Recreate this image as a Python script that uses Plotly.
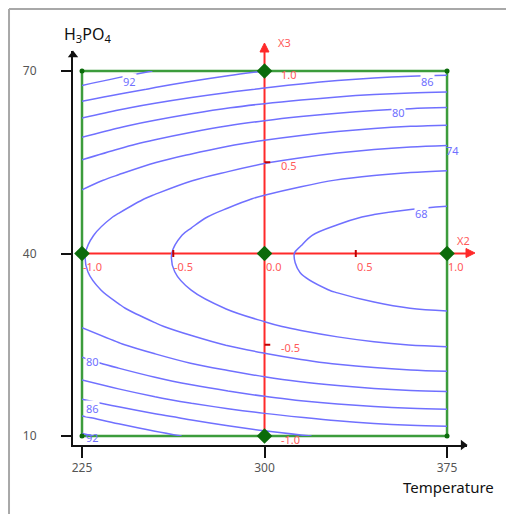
import plotly.graph_objects as go

# ---------------- data ----------------
temperature = [225, 240, 255, 270, 285, 300, 315, 330, 345, 360, 375]
h3po4 = [10, 13, 16, 19, 22, 25, 28, 31, 34, 37, 40, 43, 46, 49, 52, 55, 58, 61, 64, 67, 70]
# estimated response values, rows = H3PO4 levels (10 -> 70), cols = temperature levels
response = [
    [92.43, 91.06, 89.81, 88.70, 87.73, 86.88, 86.17, 85.58, 85.13, 84.82, 84.63],
    [89.34, 87.97, 86.72, 85.61, 84.64, 83.79, 83.08, 82.49, 82.04, 81.73, 81.54],
    [86.05, 84.68, 83.43, 82.32, 81.35, 80.50, 79.79, 79.20, 78.75, 78.44, 78.25],
    [83.16, 81.79, 80.54, 79.43, 78.46, 77.61, 76.90, 76.31, 75.86, 75.55, 75.36],
    [80.67, 79.30, 78.05, 76.94, 75.97, 75.12, 74.41, 73.82, 73.37, 73.06, 72.87],
    [78.58, 77.21, 75.96, 74.85, 73.88, 73.03, 72.32, 71.73, 71.28, 70.97, 70.78],
    [76.89, 75.52, 74.27, 73.16, 72.19, 71.34, 70.63, 70.04, 69.59, 69.28, 69.09],
    [75.60, 74.23, 72.98, 71.87, 70.90, 70.05, 69.34, 68.75, 68.30, 67.99, 67.80],
    [74.71, 73.34, 72.09, 70.98, 70.01, 69.16, 68.45, 67.86, 67.41, 67.10, 66.91],
    [74.22, 72.85, 71.60, 70.49, 69.52, 68.67, 67.96, 67.37, 66.92, 66.61, 66.42],
    [74.13, 72.76, 71.51, 70.40, 69.43, 68.58, 67.87, 67.28, 66.83, 66.52, 66.33],
    [74.44, 73.07, 71.82, 70.71, 69.74, 68.89, 68.18, 67.59, 67.14, 66.83, 66.64],
    [75.15, 73.78, 72.53, 71.42, 70.45, 69.60, 68.89, 68.30, 67.85, 67.54, 67.35],
    [76.26, 74.89, 73.64, 72.53, 71.56, 70.71, 70.01, 69.41, 68.96, 68.65, 68.46],
    [77.77, 76.40, 75.15, 74.04, 73.07, 72.22, 71.51, 70.92, 70.47, 70.16, 69.97],
    [79.68, 78.31, 77.06, 75.95, 74.98, 74.13, 73.42, 72.83, 72.38, 72.07, 71.88],
    [81.99, 80.62, 79.37, 78.26, 77.29, 76.44, 75.73, 75.14, 74.69, 74.38, 74.19],
    [84.70, 83.33, 82.08, 80.97, 80.01, 79.15, 78.44, 77.85, 77.40, 77.09, 76.90],
    [87.81, 86.44, 85.19, 84.08, 83.11, 82.26, 81.55, 80.96, 80.51, 80.20, 80.01],
    [91.32, 89.95, 88.70, 87.59, 86.62, 85.77, 85.06, 84.47, 84.02, 83.71, 83.52],
    [94.53, 93.16, 91.91, 90.80, 89.83, 88.98, 88.27, 87.68, 87.23, 86.92, 86.73],
]
contour_start, contour_end, contour_step = 68, 92, 3

# contour labels shown in the chart
contour_label_text = ["92", "86", "80", "74", "68", "80", "86", "92"]
contour_label_x = [244.7, 367.0, 354.9, 377.3, 364.3, 229.5, 229.5, 229.5]
contour_label_y = [68.3, 68.2, 63.1, 57.0, 46.5, 22.3, 14.6, 9.7]

# experimental design points (star + centre) and cube corners
design_T = [225, 375, 300, 300, 300]
design_H = [40, 40, 10, 70, 40]
corner_T = [225, 375, 375, 225]
corner_H = [70, 70, 10, 10]

# axis ticks
x_ticks = [225, 300, 375]
y_ticks = [10, 40, 70]
x_title = "Temperature"
y_title = "H<sub>3</sub>PO<sub>4</sub>"

# coded axes (X2 along temperature, X3 along H3PO4)
coded_labels = ["-1.0", "-0.5", "0.0", "0.5", "1.0"]
coded_T = [225, 262.5, 300, 337.5, 375]
coded_H = [10, 25, 40, 55, 70]
coded_labels_H = ["-1.0", "-0.5", "", "0.5", "1.0"]
centre_T, centre_H = 300, 40

# ---------------- styling ----------------
BLUE = "#7070ff"
RED = "#ff2a2a"
RED_TXT = "#ff5a5a"
GREEN = "#3c9c3c"
DKGREEN = "#0b6b0b"
FONT = "Noto Sans"

XR = [221.3, 383.2]
YR = [8.52, 73.29]

fig = go.Figure()

fig.add_trace(go.Contour(
    x=temperature, y=h3po4, z=response,
    contours=dict(start=contour_start, end=contour_end, size=contour_step,
                  coloring="none", showlabels=False),
    line=dict(color=BLUE, width=1.5, smoothing=1.0),
    showscale=False, hoverinfo="skip",
))

# red tick marks on the coded axes
fig.add_trace(go.Scatter(
    x=[coded_T[1], coded_T[3]], y=[centre_H, centre_H], mode="markers",
    marker=dict(symbol="line-ns", size=5, line=dict(color="#c00000", width=2)),
    hoverinfo="skip", showlegend=False))
fig.add_trace(go.Scatter(
    x=[centre_T + 1.2, centre_T + 1.2], y=[coded_H[1], coded_H[3]], mode="markers",
    marker=dict(symbol="line-ew", size=4, line=dict(color="#c00000", width=2)),
    hoverinfo="skip", showlegend=False))

# black axis arrowheads
fig.add_trace(go.Scatter(
    x=[XR[1] - 1.6], y=[YR[0]], mode="markers", cliponaxis=False,
    marker=dict(symbol="triangle-right", size=9, color="#111"),
    hoverinfo="skip", showlegend=False))
fig.add_trace(go.Scatter(
    x=[XR[0]], y=[YR[1] - 0.65], mode="markers", cliponaxis=False,
    marker=dict(symbol="triangle-up", size=9, color="#111"),
    hoverinfo="skip", showlegend=False))

# corner points
fig.add_trace(go.Scatter(
    x=corner_T, y=corner_H, mode="markers", cliponaxis=False,
    marker=dict(symbol="circle", size=5, color=DKGREEN),
    hoverinfo="skip", showlegend=False))
# design points
fig.add_trace(go.Scatter(
    x=design_T, y=design_H, mode="markers", cliponaxis=False,
    marker=dict(symbol="diamond", size=12, color=DKGREEN),
    hoverinfo="skip", showlegend=False))

# red arrowheads (paper coordinates, just outside the plotted range)
ax2_tip = (1.0203, 0.4873)
ax3_tip = (0.486, 1.0203)
hl, hw = 0.0228, 0.0114
x2_head = "M {:.4f},{:.4f} L {:.4f},{:.4f} L {:.4f},{:.4f} Z".format(
    ax2_tip[0], ax2_tip[1], ax2_tip[0] - hl, ax2_tip[1] + hw, ax2_tip[0] - hl, ax2_tip[1] - hw)
x3_head = "M {:.4f},{:.4f} L {:.4f},{:.4f} L {:.4f},{:.4f} Z".format(
    ax3_tip[0], ax3_tip[1], ax3_tip[0] - hw, ax3_tip[1] - hl, ax3_tip[0] + hw, ax3_tip[1] - hl)

shapes = [
    dict(type="rect", xref="x", yref="y", x0=x_ticks[0], x1=x_ticks[-1],
         y0=y_ticks[0], y1=y_ticks[-1], line=dict(color=GREEN, width=2.5), layer="below"),
    dict(type="line", xref="x", yref="y", x0=x_ticks[0], x1=XR[1] + 2,
         y0=centre_H, y1=centre_H, line=dict(color=RED, width=2), layer="below"),
    dict(type="line", xref="x", yref="y", x0=centre_T, x1=centre_T,
         y0=y_ticks[0], y1=YR[1] + 2, line=dict(color=RED, width=2), layer="below"),
    dict(type="path", xref="paper", yref="paper", path=x2_head,
         fillcolor=RED, line=dict(color=RED, width=1)),
    dict(type="path", xref="paper", yref="paper", path=x3_head,
         fillcolor=RED, line=dict(color=RED, width=1)),
    # outer frame
    dict(type="line", xref="paper", yref="paper", x0=-0.1624, x1=-0.1624,
         y0=1.1066, y1=-0.25, line=dict(color="#a8a8a8", width=2)),
    dict(type="line", xref="paper", yref="paper", x0=-0.1624, x1=1.2,
         y0=1.1066, y1=1.1066, line=dict(color="#a8a8a8", width=2)),
]

ann = []
ann.append(dict(x=0.992, y=centre_H, xref="paper", yref="y", text="X2", showarrow=False,
                xanchor="center", yanchor="middle", yshift=13,
                font=dict(family=FONT, size=11, color=RED_TXT)))
ann.append(dict(x=centre_T, y=1.0228, xref="x", yref="paper", text="X3", showarrow=False,
                xanchor="left", yanchor="middle", xshift=11,
                font=dict(family=FONT, size=11, color=RED_TXT)))
# coded labels along X2
for t, lab in zip(coded_T, coded_labels):
    ann.append(dict(x=t, y=centre_H, xref="x", yref="y", text=lab, showarrow=False,
                    xanchor="left", yanchor="middle", xshift=-1, yshift=-13,
                    font=dict(family=FONT, size=11, color=RED_TXT)))
# coded labels along X3
for h, lab in zip(coded_H, coded_labels_H):
    if lab:
        ann.append(dict(x=centre_T, y=h, xref="x", yref="y", text=lab, showarrow=False,
                        xanchor="left", yanchor="middle", xshift=14, yshift=-3,
                        font=dict(family=FONT, size=11, color=RED_TXT)))
# contour labels
for i, (tx, lx, ly) in enumerate(zip(contour_label_text, contour_label_x, contour_label_y)):
    ann.append(dict(x=lx, y=ly, xref="x", yref="y", text=tx, showarrow=False,
                    xanchor="center", yanchor="middle",
                    bgcolor="white" if i in (0, 1, 2, 4, 5, 6) else None,
                    borderpad=0,
                    font=dict(family=FONT, size=11, color=BLUE)))
# axis titles
ann.append(dict(x=0, y=1.0, xref="paper", yref="paper", text=y_title, showarrow=False,
                xanchor="center", yanchor="bottom", xshift=14, yshift=3,
                font=dict(family=FONT, size=16, color="#111")))
ann.append(dict(x=1.0, y=0, xref="paper", yref="paper", text=x_title, showarrow=False,
                xanchor="center", yanchor="top", xshift=-19, yshift=-30,
                font=dict(family=FONT, size=15, color="#111")))

fig.update_layout(
    width=506, height=506,
    margin=dict(l=65, r=47, t=43, b=69, pad=0),
    paper_bgcolor="white", plot_bgcolor="white",
    showlegend=False,
    shapes=shapes, annotations=ann,
    xaxis=dict(range=XR, showgrid=False, zeroline=False,
               showline=True, linecolor="#111", linewidth=2,
               tickvals=x_ticks, ticktext=[str(v) for v in x_ticks],
               ticks="outside", ticklen=11, tickwidth=2, tickcolor="#111",
               tickfont=dict(family=FONT, size=12, color="#555")),
    yaxis=dict(range=YR, showgrid=False, zeroline=False,
               showline=True, linecolor="#111", linewidth=2,
               tickvals=y_ticks, ticktext=[str(v) for v in y_ticks],
               ticks="outside", ticklen=10, tickwidth=2, tickcolor="#111",
               ticklabelstandoff=22,
               tickfont=dict(family=FONT, size=12, color="#555")),
)

fig.write_html("out.html")
